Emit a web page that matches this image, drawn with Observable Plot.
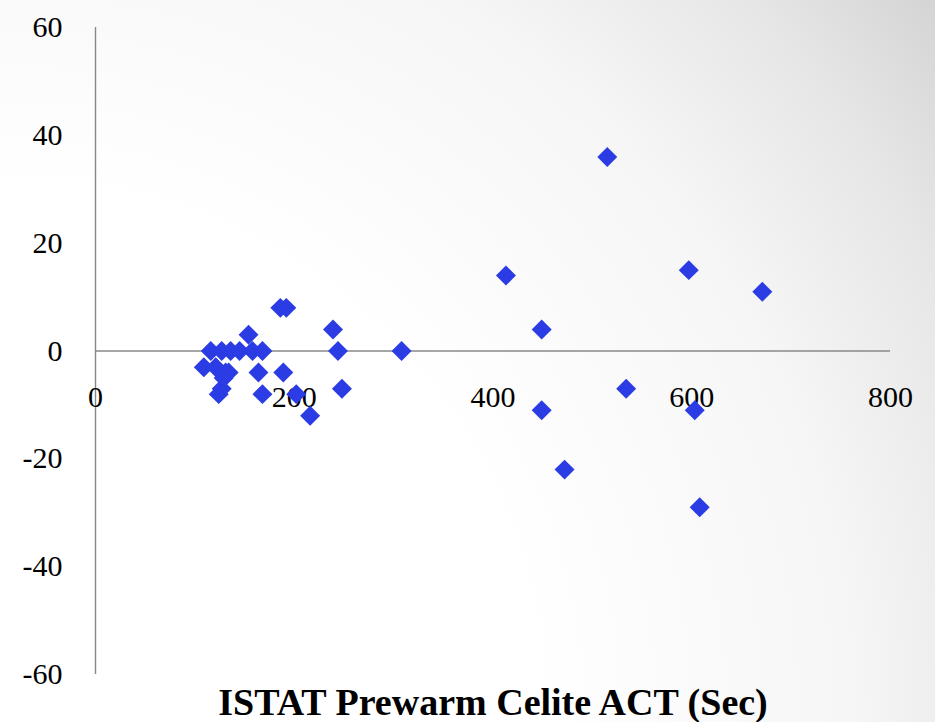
<!DOCTYPE html>
<html>
<head>
<meta charset="utf-8">
<script src="https://cdn.jsdelivr.net/npm/d3@7"></script>
<script src="https://cdn.jsdelivr.net/npm/@observablehq/plot@0.6"></script>
<style>
  html, body { margin: 0; padding: 0; background: #fff; }
  #chart svg { display: block; }
</style>
</head>
<body>
<div id="chart"></div>
<script>
// ISTAT Prewarm Celite ACT (Sec) vs difference
const actSec = [
  109, 116, 121, 124, 127, 127, 129, 131, 134, 136, 145, 154, 158, 164, 168, 168,
  186, 189, 192, 202, 216, 239, 244, 248,
  308, 413, 449, 449, 472, 515, 534, 597, 603, 608, 671
];
const diffVal = [
  -3, 0, -3, -8, 0, -7, -5, -4, -4, 0, 0, 3, 0, -4, 0, -8,
  8, -4, 8, -8, -12, 4, 0, -7,
  0, 14, 4, -11, -22, 36, -7, 15, -11, -29, 11
];
const xTicks = [0, 200, 400, 600, 800];
const yTicks = [-60, -40, -20, 0, 20, 40, 60];
const xLabel = "ISTAT Prewarm Celite ACT (Sec)";

const points = actSec.map((x, i) => ({x, y: diffVal[i]}));

const serif = "'Liberation Serif', 'DejaVu Serif', serif";

const chart = Plot.plot({
  width: 935,
  height: 722,
  marginLeft: 95,
  marginRight: 45,
  marginTop: 27,
  marginBottom: 48,
  style: {
    fontFamily: serif,
    fontSize: "30px",
    color: "#000",
    background: "radial-gradient(circle farthest-corner at 0% 100%, #ffffff 45%, #f6f6f6 72%, #e6e6e6 88%, #d4d4d4 100%)"
  },
  x: {domain: [0, 800], axis: null},
  y: {domain: [-60, 60], ticks: yTicks},
  marks: [
    Plot.axisY(yTicks, {tickSize: 0, tickPadding: 33, fontSize: 30, label: null, tickFormat: d => String(d)}),
    Plot.ruleX([0], {stroke: "#888", strokeWidth: 1.4}),
    Plot.ruleY([0], {stroke: "#888", strokeWidth: 1.4}),
    Plot.text(xTicks, {x: d => d, y: 0, text: d => String(d), dy: 46, fontSize: 30, fill: "#000"}),
    Plot.dot(points, {x: "x", y: "y", symbol: "diamond2", r: 9, fill: "#2b3ce4", stroke: "none"}),
    Plot.text([xLabel], {frameAnchor: "bottom", lineAnchor: "middle", dy: 28, fontSize: 38, fontWeight: "bold", fill: "#000", text: d => d})
  ]
});
document.getElementById("chart").appendChild(chart);
</script>
</body>
</html>
